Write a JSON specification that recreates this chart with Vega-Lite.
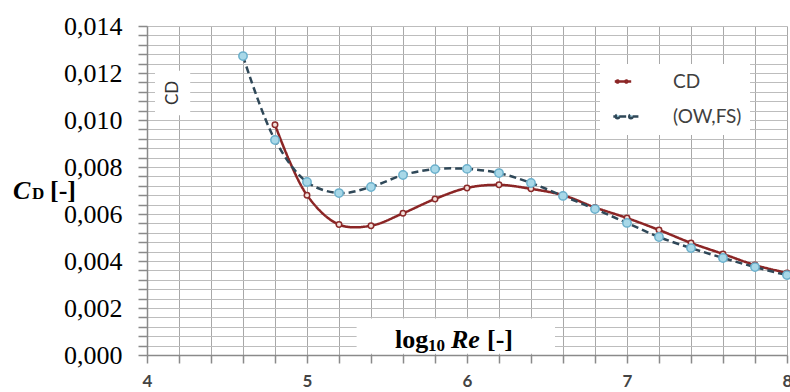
{
  "$schema": "https://vega.github.io/schema/vega-lite/v6.json",
  "width": 640,
  "height": 329,
  "autosize": {"type": "none"},
  "padding": {"left": 147, "top": 26, "right": 3, "bottom": 37},
  "background": "white",
  "config": {"view": {"stroke": null}},
  "data": {
    "values": [
      {"series": "CD", "x": 4.8, "cd": 0.0098},
      {"series": "CD", "x": 5.0, "cd": 0.0068},
      {"series": "CD", "x": 5.2, "cd": 0.00555},
      {"series": "CD", "x": 5.4, "cd": 0.0055},
      {"series": "CD", "x": 5.6, "cd": 0.00603},
      {"series": "CD", "x": 5.8, "cd": 0.00664},
      {"series": "CD", "x": 6.0, "cd": 0.00711},
      {"series": "CD", "x": 6.2, "cd": 0.00724},
      {"series": "CD", "x": 6.4, "cd": 0.00707},
      {"series": "CD", "x": 6.6, "cd": 0.0068},
      {"series": "CD", "x": 6.8, "cd": 0.00628},
      {"series": "CD", "x": 7.0, "cd": 0.00583},
      {"series": "CD", "x": 7.2, "cd": 0.00532},
      {"series": "CD", "x": 7.4, "cd": 0.00477},
      {"series": "CD", "x": 7.6, "cd": 0.0043},
      {"series": "CD", "x": 7.8, "cd": 0.00383},
      {"series": "CD", "x": 8.0, "cd": 0.00349},
      {"series": "(OW,FS)", "x": 4.6, "cd": 0.01272},
      {"series": "(OW,FS)", "x": 4.8, "cd": 0.00915},
      {"series": "(OW,FS)", "x": 5.0, "cd": 0.00736},
      {"series": "(OW,FS)", "x": 5.2, "cd": 0.00689},
      {"series": "(OW,FS)", "x": 5.4, "cd": 0.00715},
      {"series": "(OW,FS)", "x": 5.6, "cd": 0.00766},
      {"series": "(OW,FS)", "x": 5.8, "cd": 0.00791},
      {"series": "(OW,FS)", "x": 6.0, "cd": 0.00792},
      {"series": "(OW,FS)", "x": 6.2, "cd": 0.00774},
      {"series": "(OW,FS)", "x": 6.4, "cd": 0.00732},
      {"series": "(OW,FS)", "x": 6.6, "cd": 0.00677},
      {"series": "(OW,FS)", "x": 6.8, "cd": 0.00621},
      {"series": "(OW,FS)", "x": 7.0, "cd": 0.00562},
      {"series": "(OW,FS)", "x": 7.2, "cd": 0.00502},
      {"series": "(OW,FS)", "x": 7.4, "cd": 0.00455},
      {"series": "(OW,FS)", "x": 7.6, "cd": 0.00413},
      {"series": "(OW,FS)", "x": 7.8, "cd": 0.00374},
      {"series": "(OW,FS)", "x": 8.0, "cd": 0.0034}
    ]
  },
  "layer": [
    {
      "mark": {"type": "line", "interpolate": "catmull-rom", "strokeWidth": 2.5},
      "encoding": {
        "x": {
          "field": "x", "type": "quantitative",
          "scale": {"domain": [4, 8], "nice": false, "zero": false},
          "axis": {
            "title": null,
            "tickCount": 200,
            "values": [4, 4.2, 4.4, 4.6, 4.8, 5, 5.2, 5.4, 5.6, 5.8, 6, 6.2, 6.4, 6.6, 6.8, 7, 7.2, 7.4, 7.6, 7.8, 8],
            "grid": true, "gridColor": "#a8a8a8", "gridWidth": 1,
            "domainColor": "#8a8a8a", "domainWidth": 1.5,
            "tickColor": "#8a8a8a", "tickSize": 8, "tickWidth": 1.5,
            "labelOverlap": false, "labelFlush": false,
            "labelExpr": "abs(datum.value - round(datum.value)) < 0.001 ? format(datum.value, 'd') : ''",
            "labelFont": "Lato", "labelFontWeight": "bold", "labelFontSize": 17, "labelColor": "#444444", "labelPadding": 10,
            "encode": {"ticks": {"update": {"opacity": {"signal": "abs(datum.value - round(datum.value)) < 0.001 ? 1 : 0"}}}}
          }
        },
        "y": {
          "field": "cd", "type": "quantitative",
          "scale": {"domain": [0, 0.014], "nice": false},
          "axis": {
            "title": null,
            "tickCount": 200,
            "values": [0, 0.0004, 0.0008, 0.0012, 0.0016, 0.002, 0.0024, 0.0028, 0.0032, 0.0036, 0.004, 0.0044, 0.0048, 0.0052, 0.0056, 0.006, 0.0064, 0.0068, 0.0072, 0.0076, 0.008, 0.0084, 0.0088, 0.0092, 0.0096, 0.01, 0.0104, 0.0108, 0.0112, 0.0116, 0.012, 0.0124, 0.0128, 0.0132, 0.0136, 0.014],
            "grid": true, "gridColor": "#bdbdbd", "gridWidth": 1,
            "domainColor": "#8a8a8a", "domainWidth": 1.5,
            "tickColor": "#8a8a8a", "tickSize": 9, "tickWidth": 1.5,
            "labelOverlap": false, "labelFlush": false,
            "labelExpr": "abs(datum.value / 0.002 - round(datum.value / 0.002)) < 0.01 ? replace(format(datum.value, '.3f'), '.', ',') : ''",
            "labelFont": "Liberation Serif", "labelFontSize": 26, "labelColor": "#000000", "labelPadding": 16,
            "encode": {
              "ticks": {"update": {"opacity": {"signal": "abs(datum.value / 0.002 - round(datum.value / 0.002)) < 0.01 ? 1 : 0"}}},
              "grid": {"update": {"stroke": {"signal": "abs(datum.value / 0.002 - round(datum.value / 0.002)) < 0.01 ? '#999999' : '#c4c4c4'"}}}
            }
          }
        },
        "color": {
          "field": "series", "type": "nominal",
          "scale": {"domain": ["CD", "(OW,FS)"], "range": ["#8b2525", "#2f4858"]},
          "legend": {
            "title": null, "orient": "none", "legendX": 453, "legendY": 38,
            "fillColor": "white", "padding": 8,
            "symbolType": "M-1,0H-0.4M0.4,0H2.8M3.6,0H5M0.4,0A0.4,0.4 0 1 1 -0.4,0A0.4,0.4 0 1 1 0.4,0M3.6,0A0.4,0.4 0 1 1 2.8,0A0.4,0.4 0 1 1 3.6,0",
            "symbolSize": 400, "symbolStrokeWidth": 2.5,
            "labelOffset": 46, "rowPadding": 15,
            "labelFont": "Lato", "labelFontSize": 19, "labelColor": "#404040",
            "encode": {
              "symbols": {
                "update": {
                  "fill": [{"test": "datum.value === 'CD'", "value": "#f3e0da"}, {"value": "#a8d8e8"}],
                  "strokeDash": [{"test": "datum.value === 'CD'", "value": [1, 0]}, {"value": [6, 3]}]
                }
              }
            }
          }
        },
        "strokeDash": {
          "field": "series", "type": "nominal",
          "scale": {"domain": ["CD", "(OW,FS)"], "range": [[1, 0], [7, 4]]},
          "legend": null
        }
      }
    },
    {
      "mark": {"type": "circle", "opacity": 1, "strokeWidth": 1.5},
      "encoding": {
        "x": {"field": "x", "type": "quantitative"},
        "y": {"field": "cd", "type": "quantitative"},
        "fill": {"field": "series", "type": "nominal", "scale": {"domain": ["CD", "(OW,FS)"], "range": ["#f3e0da", "#a8d8e8"]}, "legend": null},
        "stroke": {"field": "series", "type": "nominal", "scale": {"domain": ["CD", "(OW,FS)"], "range": ["#8b2a2a", "#6bb0cc"]}, "legend": null},
        "size": {"field": "series", "type": "nominal", "scale": {"domain": ["CD", "(OW,FS)"], "range": [30, 70]}, "legend": null}
      }
    },
    {
      "data": {"values": [{}]},
      "mark": {"type": "rect", "fill": "white"},
      "encoding": {
        "x": {"datum": 4.05}, "x2": {"datum": 4.27},
        "y": {"datum": 0.0102}, "y2": {"datum": 0.0121}
      }
    },
    {
      "data": {"values": [{}]},
      "mark": {"type": "rect", "fill": "white"},
      "encoding": {
        "x": {"datum": 5.31}, "x2": {"datum": 6.55},
        "y": {"datum": 0.00005}, "y2": {"datum": 0.00155}
      }
    },
    {
      "data": {"values": [{}]},
      "mark": {"type": "text", "text": "CD", "angle": 270, "font": "Lato", "fontSize": 17, "color": "#333333", "align": "center", "baseline": "middle"},
      "encoding": {"x": {"datum": 4.16}, "y": {"datum": 0.01115}}
    },
    {
      "data": {"values": [{}]},
      "mark": {"type": "text", "text": "log", "font": "Liberation Serif", "fontWeight": "bold", "fontSize": 26, "color": "#000000", "align": "left", "baseline": "middle"},
      "encoding": {"x": {"datum": 5.55}, "y": {"datum": 0.00064}}
    },
    {
      "data": {"values": [{}]},
      "mark": {"type": "text", "text": "10", "font": "Liberation Serif", "fontWeight": "bold", "fontSize": 17, "color": "#000000", "align": "left", "baseline": "middle", "dx": 33, "dy": 6},
      "encoding": {"x": {"datum": 5.55}, "y": {"datum": 0.00064}}
    },
    {
      "data": {"values": [{}]},
      "mark": {"type": "text", "text": "Re", "font": "Liberation Serif", "fontWeight": "bold", "fontStyle": "italic", "fontSize": 26, "color": "#000000", "align": "left", "baseline": "middle", "dx": 56},
      "encoding": {"x": {"datum": 5.55}, "y": {"datum": 0.00064}}
    },
    {
      "data": {"values": [{}]},
      "mark": {"type": "text", "text": "[-]", "font": "Liberation Serif", "fontWeight": "bold", "fontSize": 26, "color": "#000000", "align": "left", "baseline": "middle", "dx": 92},
      "encoding": {"x": {"datum": 5.55}, "y": {"datum": 0.00064}}
    },
    {
      "data": {"values": [{}]},
      "mark": {"type": "text", "text": "C", "font": "Liberation Serif", "fontWeight": "bold", "fontStyle": "italic", "fontSize": 26, "color": "#000000", "align": "left", "baseline": "middle"},
      "encoding": {"x": {"datum": 3.1625}, "y": {"datum": 0.0070}}
    },
    {
      "data": {"values": [{}]},
      "mark": {"type": "text", "text": "D", "font": "Liberation Serif", "fontWeight": "bold", "fontSize": 17, "color": "#000000", "align": "left", "baseline": "middle", "dx": 19, "dy": 3},
      "encoding": {"x": {"datum": 3.1625}, "y": {"datum": 0.0070}}
    },
    {
      "data": {"values": [{}]},
      "mark": {"type": "text", "text": "[-]", "font": "Liberation Serif", "fontWeight": "bold", "fontSize": 26, "color": "#000000", "align": "left", "baseline": "middle", "dx": 37},
      "encoding": {"x": {"datum": 3.1625}, "y": {"datum": 0.0070}}
    }
  ]
}
